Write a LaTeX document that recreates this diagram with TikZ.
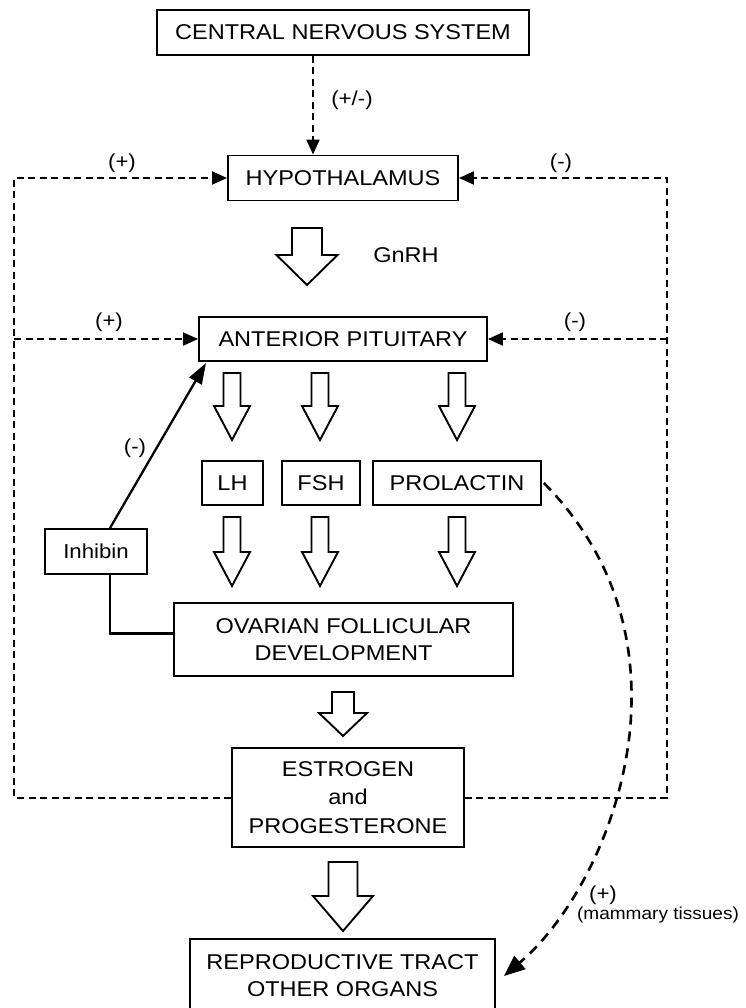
\documentclass[tikz,border=0pt]{standalone}
\usepackage{fontspec}
\setmainfont{Liberation Sans}[FakeStretch=1.1]
\usetikzlibrary{arrows.meta,calc}
\newcommand\mainfs{\fontsize{21.4}{27}\selectfont}
\newcommand\labfs{\fontsize{20.2}{24}\selectfont}
\newcommand\tinyfs{\fontsize{17.3}{20}\selectfont}
\newcommand\hollowarrow[6]{%
  \draw[harrow] (#1-#5/2,#2) -- (#1+#5/2,#2) -- (#1+#5/2,#3) -- (#1+#6/2,#3)
    -- (#1,#4) -- (#1-#6/2,#3) -- (#1-#5/2,#3) -- cycle;}
\begin{document}
\begin{tikzpicture}[x=1pt,y=-1pt,
  box/.style={draw,line width=1.9pt,inner sep=0pt,align=center,font=\mainfs},
  lab/.style={inner sep=0pt,font=\labfs},
  harrow/.style={draw,fill=white,line width=1.9pt,line join=miter},
  fbline/.style={line width=2pt,dash pattern=on 7pt off 4.5pt},
  fbtip/.style={-{Triangle[length=15pt,width=13pt]}},
  curvedash/.style={line width=2.6pt,dash pattern=on 10pt off 7pt,-{Triangle[length=21pt,width=17pt]}},
  solidarrow/.style={line width=2.3pt,-{Triangle[length=21pt,width=14pt]}},
  solidline/.style={line width=2.3pt}]
\fill[white] (0,0) rectangle (745,1008);
\useasboundingbox (0,0) rectangle (745,1008);

% boxes
\node[box,minimum width=372pt,minimum height=45pt] (cns) at (343,32.5) {CENTRAL NERVOUS SYSTEM};
\node[box,minimum width=230pt,minimum height=45pt] (hyp) at (343,178) {HYPOTHALAMUS};
\node[box,minimum width=288pt,minimum height=44pt] (ap) at (343,339) {ANTERIOR PITUITARY};
\node[box,minimum width=61pt,minimum height=44pt] (lh) at (232.5,483) {LH};
\node[box,minimum width=78pt,minimum height=44pt] (fsh) at (321,483) {FSH};
\node[box,minimum width=168pt,minimum height=44pt] (prl) at (457,483) {PROLACTIN};
\node[box,minimum width=102pt,minimum height=45pt,font=\labfs] (inh) at (96,551.5) {Inhibin};
\node[box,minimum width=339pt,minimum height=73pt] (ova) at (343.5,639.5) {OVARIAN FOLLICULAR\\DEVELOPMENT};
\node[box,minimum width=232pt,minimum height=99pt,font=\fontsize{21.4}{28.5}\selectfont] (est) at (348,797.5) {ESTROGEN\\and\\PROGESTERONE};
\node[box,minimum width=305pt,minimum height=74pt] (rep) at (342.5,976) {REPRODUCTIVE TRACT\\OTHER ORGANS};

% labels
\node[lab] (lpm) at (352,100) {(+/-)};
\node[lab] (l1) at (122,163) {(+)};
\node[lab] (l2) at (561,163) {(-)};
\node[lab,font=\mainfs] (lg) at (406,255) {GnRH};
\node[lab] (l3) at (109,322) {(+)};
\node[lab] (l4) at (575,322) {(-)};
\node[lab] (l5) at (135,448) {(-)};
\node[lab] (l6) at (603,895) {(+)};
\node[lab,font=\tinyfs] (l7) at (658,915) {(mammary tissues)};

% feedback coordinates
\coordinate (lx) at (14,0);
\coordinate (rx) at (667,0);

% CNS -> hypothalamus
\draw[fbline,fbtip] ([xshift=-30pt]cns.south) -- ([xshift=-30pt]hyp.north);

% feedback loops
\draw[fbline,fbtip] (est.west) -- (est.west -| lx) -- (hyp.west -| lx) -- (hyp.west);
\draw[fbline,fbtip] (ap.west -| lx) -- (ap.west);
\draw[fbline,fbtip] (est.east) -- (est.east -| rx) -- (hyp.east -| rx) -- (hyp.east);
\draw[fbline,fbtip] (ap.east -| rx) -- (ap.east);

% hollow arrows
\hollowarrow{307}{228}{255}{285}{30}{61}
\hollowarrow{232}{373}{406}{440}{17}{36}
\hollowarrow{320}{373}{406}{440}{17}{36}
\hollowarrow{457}{373}{406}{440}{17}{36}
\hollowarrow{232}{517}{552}{586}{17}{36}
\hollowarrow{320}{517}{552}{586}{17}{36}
\hollowarrow{457}{517}{552}{586}{17}{36}
\hollowarrow{343}{692}{713}{736}{22}{48}
\hollowarrow{343}{862}{896}{931}{29}{60}

% inhibin
\draw[solidarrow] ([xshift=14pt]inh.north) -- ([xshift=8pt,yshift=-1pt]ap.south west);
\draw[solidline] ([xshift=14pt]inh.south) |- ([yshift=6pt]ova.west);

% prolactin curve
\draw[curvedash] ([xshift=2pt]prl.east) .. controls (600,540) and (640,620) .. (630,730)
  .. controls (620,830) and (570,920) .. ([xshift=8pt]rep.east);
\end{tikzpicture}
\end{document}
